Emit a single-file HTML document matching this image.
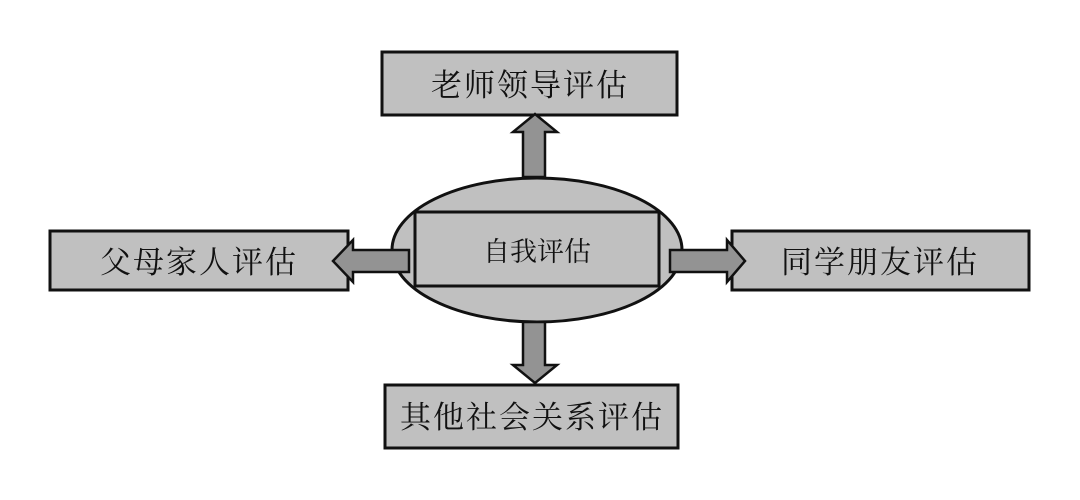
<!DOCTYPE html>
<html><head><meta charset="utf-8"><style>
html,body{margin:0;padding:0;background:#fff;}
svg{display:block}
text{font-family:"Liberation Serif","Noto Serif CJK SC",serif;fill:#111;}
</style></head><body>
<svg width="1080" height="500" viewBox="0 0 1080 500">
<g stroke="#111" stroke-width="3" fill="#c0c0c0">
<rect x="382" y="52" width="295" height="63"/>
<rect x="50" y="231" width="298" height="59"/>
<rect x="732" y="231" width="297" height="59"/>
<rect x="385" y="385" width="293" height="63"/>
<ellipse cx="537" cy="250" rx="145" ry="72"/>
<rect x="415" y="212" width="244" height="74"/>
</g>
<g stroke="#111" stroke-width="2.5" fill="#939393" stroke-linejoin="miter">
<polygon points="523,177 523,132 513,132 535,114 557,132 545,132 545,177"/>
<polygon points="523,322 523,365 513,365 535,383 557,365 545,365 545,322"/>
<polygon points="409,250 353,250 353,240 333,261 353,282 353,272 409,272"/>
<polygon points="670,250 727,250 727,240 745,261 727,282 727,272 670,272"/>
</g>
<text x="530" y="96" font-size="31" text-anchor="middle" letter-spacing="2">老师领导评估</text>
<text x="199" y="273" font-size="31" text-anchor="middle" letter-spacing="2">父母家人评估</text>
<text x="880" y="273" font-size="31" text-anchor="middle" letter-spacing="2">同学朋友评估</text>
<text x="532" y="428" font-size="31" text-anchor="middle" letter-spacing="2">其他社会关系评估</text>
<text x="537" y="261" font-size="27" text-anchor="middle">自我评估</text>
</svg>
</body></html>
